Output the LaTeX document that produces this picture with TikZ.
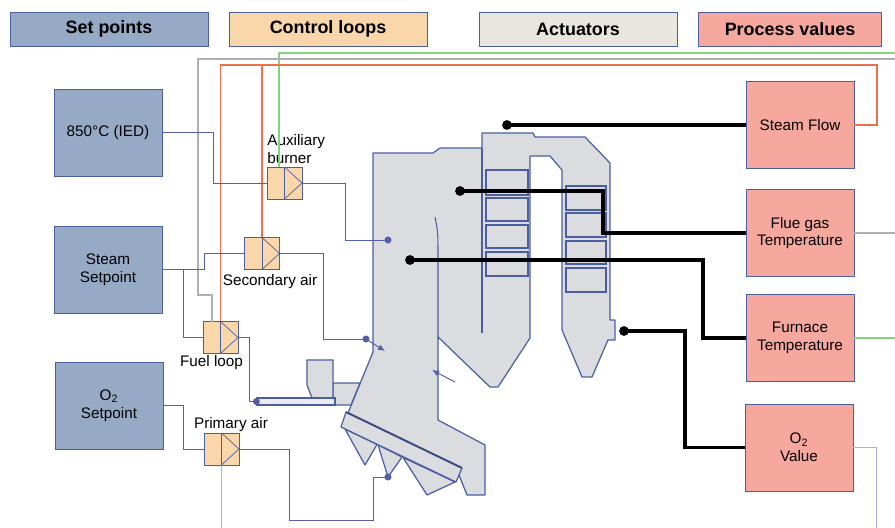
\documentclass[tikz,border=0pt]{standalone}
\usepackage{fontspec}
\setmainfont{Liberation Sans}
\usepackage{xcolor}
\usetikzlibrary{arrows.meta}

\definecolor{spfill}{RGB}{150,170,198}
\definecolor{clfill}{RGB}{250,215,170}
\definecolor{acfill}{RGB}{232,230,222}
\definecolor{pvfill}{RGB}{246,168,158}
\definecolor{boxline}{RGB}{75,95,160}
\definecolor{sigline}{RGB}{85,95,165}
\definecolor{plant}{RGB}{219,220,223}
\definecolor{fbred}{RGB}{240,110,80}
\definecolor{fbgray}{RGB}{175,175,175}
\definecolor{fbgreen}{RGB}{130,210,130}
\definecolor{fblav}{RGB}{175,175,225}

\begin{document}
\begin{tikzpicture}[x=0.02cm, y=-0.02cm, font=\fontsize{8.7}{10}\selectfont,
  header/.style={rectangle, draw=boxline, minimum width=3.96cm, minimum height=0.68cm, font=\fontsize{10.2}{12}\selectfont\bfseries},
  setbox/.style={rectangle, draw=boxline, fill=spfill, minimum width=2.16cm, minimum height=1.74cm, align=center},
  pvbox/.style={rectangle, draw=boxline, fill=pvfill, minimum width=2.16cm, minimum height=1.74cm, align=center},
  loopbox/.style={rectangle, draw=boxline, fill=clfill, minimum width=0.7cm, minimum height=0.64cm, inner sep=0pt,
    path picture={\draw[boxline] (path picture bounding box.north) -- (path picture bounding box.south);
      \draw[boxline] (path picture bounding box.north) -- (path picture bounding box.east) -- (path picture bounding box.south);}},
  plantbody/.style={fill=plant, draw=boxline, line width=0.7pt, line join=round},
  sig/.style={draw=sigline, line width=0.55pt},
  meas/.style={draw=black, line width=1.9pt},
  fbr/.style={draw=fbred, line width=0.6pt},
  fbk/.style={draw=fbgray, line width=0.6pt},
  fbg/.style={draw=fbgreen, line width=0.6pt},
  fbl/.style={draw=fblav, line width=0.6pt}]
\useasboundingbox (0,0) rectangle (895,527);

% legend
\node (hsp) [header, fill=spfill] at (109,29) {Set points};
\node (hcl) [header, fill=clfill] at (328,29) {Control loops};
\node (hac) [header, fill=acfill] at (578,29) {Actuators};
\node (hpv) [header, fill=pvfill, minimum width=3.66cm] at (790,29) {Process values};

% set points and process values
\node (temp) [setbox] at (108,132.5) {850°C (IED)};
\node (steam) [setbox] at (108,269.5) {Steam\\Setpoint};
\node (oxy) [setbox] at (109,405.5) {O\textsubscript{2}\\Setpoint};

\node (flow) [pvbox] at (800,125) {Steam Flow};
\node (flue) [pvbox] at (800,233) {Flue gas\\Temperature};
\node (furn) [pvbox] at (800,338) {Furnace\\Temperature};
\node (oval) [pvbox] at (799,447.5) {O\textsubscript{2}\\Value};

% control loops
\node (aux) [loopbox] at (284.5,183) {};
\node (sec) [loopbox] at (262,253.5) {};
\node (fuel) [loopbox] at (220.5,337.5) {};
\node (prim) [loopbox] at (221.5,449) {};

\node (auxlbl) [anchor=south west, align=left, inner sep=0pt] at (267,164) {Auxiliary\\burner};
\node (seclbl) [anchor=base, inner sep=0pt] at (270,285) {Secondary air};
\node (fuellbl) [anchor=base, inner sep=0pt] at (211.5,366) {Fuel loop};
\node (primlbl) [anchor=base, inner sep=0pt] at (231,428) {Primary air};

% feedback lines
\coordinate (rimG) at (895,53);
\coordinate (rimK) at (895,59);
\coordinate (rimR) at (877,65);
\coordinate (auxg) at (279,167);
\coordinate (fuelg) at (212,321.5);
\draw[fbg] (furn.east) -- (furn.east -| rimG);
\draw[fbg] (rimG) -| (auxg);
\draw[fbk] (flue.east) -- (flue.east -| rimK);
\draw[fbk] (rimK) -| (198,295) -| (fuelg);
\draw[fbr] (flow.east) -| (rimR) -| (fuel.north);
\draw[fbr] (sec.north |- rimR) -- (sec.north);
\draw[fbl] (oval.east) -- ++(23,0) -- ++(0,85);
\draw[fbl] (prim.south) -- ++(0,65);

% boiler
\draw[plantbody] (373,153) -- (433,153) -- (440,148) -- (482,148) -- (482,133) -- (533,133) -- (535,137)
  -- (585,137) -- (610,163) -- (610,320) -- (615,320) -- (615,340) -- (608,340) -- (592,377) -- (582,377)
  -- (562,330) -- (562,170) -- (550,156) -- (530,156) -- (530,338) -- (498,387) -- (490,387) -- (438,337)
  -- (438,420) -- (485,445) -- (485,495) -- (467,495) -- (457,470) -- (348,413) -- (373,352) -- cycle;
\draw[boxline, line width=0.7pt] (482,148) -- (482,333);
\draw[boxline, line width=0.6pt] (435,217) .. controls (438,232) .. (438,260) -- (438,337);
\foreach \top/\bot in {170/195, 198/221, 225/248, 252/276}
  \draw[boxline, line width=0.7pt] (486,\top) rectangle (528,\bot);
\foreach \top/\bot in {186/210, 213/237, 241/264, 268/292}
  \draw[boxline, line width=0.7pt] (566,\top) rectangle (606,\bot);

% fuel feed and grate
\draw[plantbody] (333,383) -- (360,383) -- (351,405) -- (333,405) -- cycle;
\draw[plantbody] (307,360) -- (333,360) -- (333,398) -- (312,398) -- (307,385) -- cycle;
\node (feed) [rectangle, draw=boxline, fill=plant!50!white, line width=0.7pt, minimum width=1.56cm, minimum height=0.14cm, inner sep=0pt] at (296,401.5) {};
\fill[sigline] (feed.west) circle (2pt);
\draw[plantbody] (345,429) -- (377,444.5) -- (365,465) -- cycle;
\draw[plantbody] (378,445) -- (402,457) -- (388,477) -- cycle;
\draw[plantbody] (403,457.5) -- (455,482) -- (427,495) -- cycle;
\draw[plantbody] (346,412) -- (462,468) -- (456,482) -- (341,427) -- cycle;
\draw[boxline!80!black, line width=1.1pt] (346,412) -- (462,468);

% air and fuel inlets
\coordinate (auxin) at (388,240);
\coordinate (secin) at (366,339);
\coordinate (primin) at (388,477);
\draw[sig] (temp.east) -- ++(51,0) |- (aux.west);
\draw[sig] (aux.east) -- ++(43,0) |- (auxin);
\draw[sig] (steam.east) -- ++(42,0) |- (sec.west);
\draw[sig] (183,269.5) |- (fuel.west);
\draw[sig] (sec.east) -- ++(44,0) |- (secin);
\draw[sig] (fuel.east) -- ++(11,0) |- (feed.west);
\draw[sig] (oxy.east) -- ++(20,0) |- (prim.west);
\draw[sig] (prim.east) -- ++(50,0) -- ++(0,71) -- ++(84,0) |- (primin);
\draw[sig, -{Latex[length=4pt,width=3.5pt]}] (secin) -- (385,351);
\draw[sig, -{Latex[length=4pt,width=3.5pt]}] (455,382) -- (432,370);
\fill[sigline] (auxin) circle (2pt);
\fill[sigline] (secin) circle (2pt);
\fill[sigline] (primin) circle (2pt);

% measurements
\coordinate (mflow) at (507,125);
\coordinate (mflue) at (460,191);
\coordinate (mfurn) at (410,260);
\coordinate (moxy) at (624,331);
\draw[meas] (mflow) -- (flow.west);
\draw[meas] (mflue) -- ++(143,0) |- (flue.west);
\draw[meas] (mfurn) -- ++(293,0) |- (furn.west);
\draw[meas] (moxy) -- ++(61,0) |- (oval.west);
\foreach \pt in {mflow, mflue, mfurn, moxy}
  \fill (\pt) circle (2.8pt);

\end{tikzpicture}
\end{document}
